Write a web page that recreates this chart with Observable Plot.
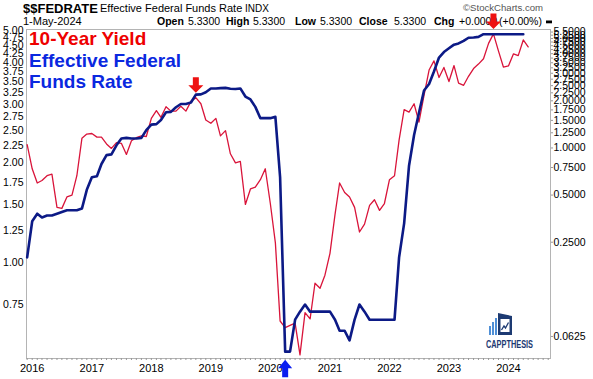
<!DOCTYPE html>
<html><head><meta charset="utf-8">
<script src="https://cdn.jsdelivr.net/npm/d3@7"></script>
<script src="https://cdn.jsdelivr.net/npm/@observablehq/plot@0.6"></script>
<style>
body{margin:0;background:#fff;}
#chart{position:relative;width:593px;height:379px;overflow:hidden;}
</style>
</head><body><div id="chart"></div>
<script>
// ---- data (monthly) ----
const startTenYear = "2015-12";
const tenYear = [
  2.27,
  1.92,1.74,1.77,1.83,1.85,1.47,1.46,1.58,1.60,1.83,2.37,2.44,
  2.45,2.39,2.39,2.28,2.21,2.30,2.29,2.12,2.33,2.38,2.41,2.40,
  2.72,2.87,2.74,2.95,2.86,2.86,2.96,2.86,3.06,3.14,3.01,2.69,
  2.63,2.72,2.41,2.50,2.13,2.00,2.02,1.50,1.67,1.69,1.78,1.92,
  1.51,1.15,0.67,0.64,0.65,0.66,0.53,0.71,0.68,0.87,0.84,0.92,
  1.07,1.40,1.74,1.63,1.58,1.47,1.24,1.31,1.49,1.55,1.44,1.51,
  1.78,1.83,2.34,2.89,2.84,3.01,2.65,3.19,3.80,4.05,3.61,3.87,
  3.51,3.92,3.47,3.42,3.64,3.84,3.96,4.11,4.57,4.88,4.33,3.88,
  3.91,4.25,4.20,4.68,4.46
];
const startFed = "2015-12";
const fedFunds = [
  0.20,
  0.34,0.38,0.36,0.37,0.37,0.38,0.39,0.40,0.40,0.40,0.41,0.54,
  0.65,0.66,0.79,0.90,0.91,1.04,1.15,1.16,1.15,1.15,1.16,1.30,
  1.41,1.42,1.51,1.69,1.70,1.82,1.91,1.91,1.95,2.19,2.20,2.27,
  2.40,2.40,2.41,2.42,2.39,2.38,2.40,2.13,2.04,1.83,1.55,1.55,
  1.55,1.58,0.65,0.05,0.05,0.08,0.09,0.10,0.09,0.09,0.09,0.09,
  0.09,0.08,0.068,0.068,0.059,0.08,0.10,0.09,0.08,0.08,0.08,0.08,
  0.08,0.08,0.20,0.33,0.77,1.21,1.68,2.33,2.56,3.08,3.78,4.10,
  4.33,4.57,4.65,4.83,5.06,5.08,5.12,5.33,5.33,5.33,5.33,5.33,
  5.33,5.33,5.33,5.33
];
const yearTicks = ["2016","2017","2018","2019","2020","2021","2022","2023","2024"];
const leftTicks = [0.75,1.00,1.25,1.50,1.75,2.00,2.25,2.50,2.75,3.00,3.25,3.50,3.75,4.00,4.25,4.50,4.75,5.00];
const rightTicks = [5.5,5.25,5.0,4.75,4.5,4.25,4.0,3.75,3.5,3.25,3.0,2.75,2.5,2.25,2.0,1.75,1.5,1.25,1.0,0.75,0.5,0.25,0.0625];
const downArrows = [{date:"2018-10", value:3.14}, {date:"2023-10", value:4.88}];
const upArrows = [{date:"2020-04", value:0.05}];
const xDomain = ["2015-11-27","2024-09-15"];
const leftDomain = [0.517, 5.03];
const rightDomain = [0.0452, 5.71];

// ---- helpers ----
const parseM = d3.utcParse("%Y-%m");
const parseD = d3.utcParse("%Y-%m-%d");
const monthsFrom = (start, n) => d3.utcMonth.range(parseM(start), d3.utcMonth.offset(parseM(start), n));
const lnL0 = Math.log(leftDomain[0]), lnL1 = Math.log(leftDomain[1]);
const lnF0 = Math.log(rightDomain[0]), lnF1 = Math.log(rightDomain[1]);
const fedToLeft = v => Math.exp(lnL0 + (Math.log(v) - lnF0) / (lnF1 - lnF0) * (lnL1 - lnL0));
const leftToFed = v => Math.exp(lnF0 + (Math.log(v) - lnL0) / (lnL1 - lnL0) * (lnF1 - lnF0));

const tenDates = monthsFrom(startTenYear, tenYear.length);
const fedDates = monthsFrom(startFed, fedFunds.length);
const tenData = tenYear.map((v, i) => ({date: tenDates[i], v}));
const fedData = fedFunds.map((v, i) => ({date: fedDates[i], v: fedToLeft(v)}));
const downData = downArrows.map(d => ({date: parseM(d.date), v: d.value}));
const upData = upArrows.map(d => ({date: parseM(d.date), v: fedToLeft(d.value)}));
const xd = xDomain.map(parseD);
const monthTicks = d3.utcMonth.range(xd[0], xd[1]);
const yearDates = yearTicks.map(y => d3.utcParse("%Y")(y));

const downArrow = {draw(c){ c.moveTo(0,0); c.lineTo(-7.5,-7.5); c.lineTo(-3,-7.5); c.lineTo(-3,-15.5); c.lineTo(3,-15.5); c.lineTo(3,-7.5); c.lineTo(7.5,-7.5); c.closePath(); }};
const upArrow = {draw(c){ c.moveTo(0,0); c.lineTo(-7,8.5); c.lineTo(-3,8.5); c.lineTo(-3,17.5); c.lineTo(3,17.5); c.lineTo(3,8.5); c.lineTo(7,8.5); c.closePath(); }};

const FONT = "Arial, 'Liberation Sans', Helvetica, sans-serif";

const svg = Plot.plot({
  width: 593, height: 379,
  marginLeft: 26, marginRight: 43, marginTop: 29, marginBottom: 21,
  style: {fontFamily: FONT, fontSize: "11px", color: "#000", background: "#fff"},
  x: {type: "utc", domain: xd, label: null},
  y: {type: "log", domain: leftDomain, label: null},
  marks: [
    Plot.frame({stroke: "#b4b4b4"}),
    Plot.axisX({ticks: monthTicks, tickSize: 2, tickFormat: () => "", stroke: "#999", label: null}),
    Plot.axisX({ticks: yearDates, tickSize: 0, tickPadding: 5.5, tickFormat: d3.utcFormat("%Y"), fontSize: 11, label: null}),
    Plot.axisY({anchor: "left", ticks: leftTicks, tickSize: 0, tickPadding: 3, tickFormat: d3.format(".2f"), fontSize: 10.5, label: null}),
    Plot.axisY({anchor: "right", ticks: rightTicks.map(fedToLeft), tickSize: 2, tickFormat: () => "", stroke: "#999", label: null}),
    Plot.axisY({anchor: "right", ticks: rightTicks.map(fedToLeft), tickSize: 0, tickPadding: 3,
      tickFormat: d => leftToFed(d).toFixed(4), fontSize: 10.5, label: null}),
    Plot.line(tenData, {x: "date", y: "v", stroke: "#d9143a", strokeWidth: 1.3}),
    Plot.line(fedData, {x: "date", y: "v", stroke: "#0c1a86", strokeWidth: 2.6, strokeLinejoin: "round"}),
    Plot.dot(downData, {x: "date", y: "v", symbol: downArrow, r: 6, fill: "#ee1111", stroke: null, dy: -5}),
    Plot.dot(upData, {x: "date", y: "v", symbol: upArrow, r: 6, fill: "#0b1ef0", stroke: null, dy: 8})
  ]
});
document.getElementById("chart").appendChild(svg);

// ---- header, annotations & logo ----
const root = d3.select(svg);
const g = root.insert("g", "g").attr("font-family", FONT).attr("text-anchor", "start");
const header = [
  {t: "$$FEDRATE", x: 23, y: 12.5, s: 13, w: "bold"},
  {t: "Effective Federal Funds Rate", x: 100, y: 12, s: 11},
  {t: "INDX", x: 245, y: 12, s: 10},
  {t: "\u00A9StockCharts.com", x: 463, y: 11, s: 9.6, f: "#555"},
  {t: "1-May-2024", x: 23, y: 25, s: 11},
  {t: "Open", x: 157, y: 25, s: 10.5, w: "bold"},
  {t: "5.3300", x: 188, y: 25, s: 10.5},
  {t: "High", x: 226, y: 25, s: 10.5, w: "bold"},
  {t: "5.3300", x: 253, y: 25, s: 10.5},
  {t: "Low", x: 295, y: 25, s: 10.5, w: "bold"},
  {t: "5.3300", x: 320, y: 25, s: 10.5},
  {t: "Close", x: 359, y: 25, s: 10.5, w: "bold"},
  {t: "5.3300", x: 394, y: 25, s: 10.5},
  {t: "Chg", x: 434, y: 25, s: 10.5, w: "bold"},
  {t: "+0.0000", x: 459, y: 25, s: 10.5},
  {t: "(+0.00%)", x: 499, y: 25, s: 10.5}
];
header.forEach(h => g.append("text").attr("x", h.x).attr("y", h.y).attr("font-size", h.s)
  .attr("font-weight", h.w || "normal").attr("fill", h.f || "#000").text(h.t));
g.append("rect").attr("x", 546).attr("y", 20.5).attr("width", 6).attr("height", 2.8).attr("fill", "#000");

const ann = root.append("g").attr("font-family", FONT).attr("font-weight", "bold").attr("font-size", 19).attr("text-anchor", "start");
ann.append("text").attr("x", 29).attr("y", 45.3).attr("fill", "#ee0000").text("10-Year Yield");
ann.append("text").attr("x", 29).attr("y", 66.7).attr("fill", "#0a28e0").text("Effective Federal");
ann.append("text").attr("x", 29).attr("y", 88.3).attr("fill", "#0a28e0").text("Funds Rate");

const logo = root.append("g");
logo.append("rect").attr("x", 489).attr("y", 326).attr("width", 2).attr("height", 9).attr("fill", "#4f8fd6");
logo.append("rect").attr("x", 492).attr("y", 322).attr("width", 2).attr("height", 13).attr("fill", "#4f8fd6");
logo.append("rect").attr("x", 495).attr("y", 318).attr("width", 2).attr("height", 17).attr("fill", "#4f8fd6");
logo.append("path").attr("d", "M498,313 L512,316 L512,335 L498,335 Z").attr("fill", "#1d3a72");
logo.append("rect").attr("x", 500.5).attr("y", 319).attr("width", 9).attr("height", 13).attr("fill", "#fff");
logo.append("path").attr("d", "M501.5,330 L504,326 L505.5,328 L508.5,322.5").attr("fill", "none").attr("stroke", "#1d3a72").attr("stroke-width", 1.3);
logo.append("text").attr("x", 486).attr("y", 347.5).attr("font-family", FONT).attr("font-weight", "bold").attr("text-anchor", "start")
  .attr("font-size", 10).attr("textLength", 47).attr("lengthAdjust", "spacingAndGlyphs").attr("fill", "#1d3a72").text("CAPPTHESIS");
</script>
</body></html>
